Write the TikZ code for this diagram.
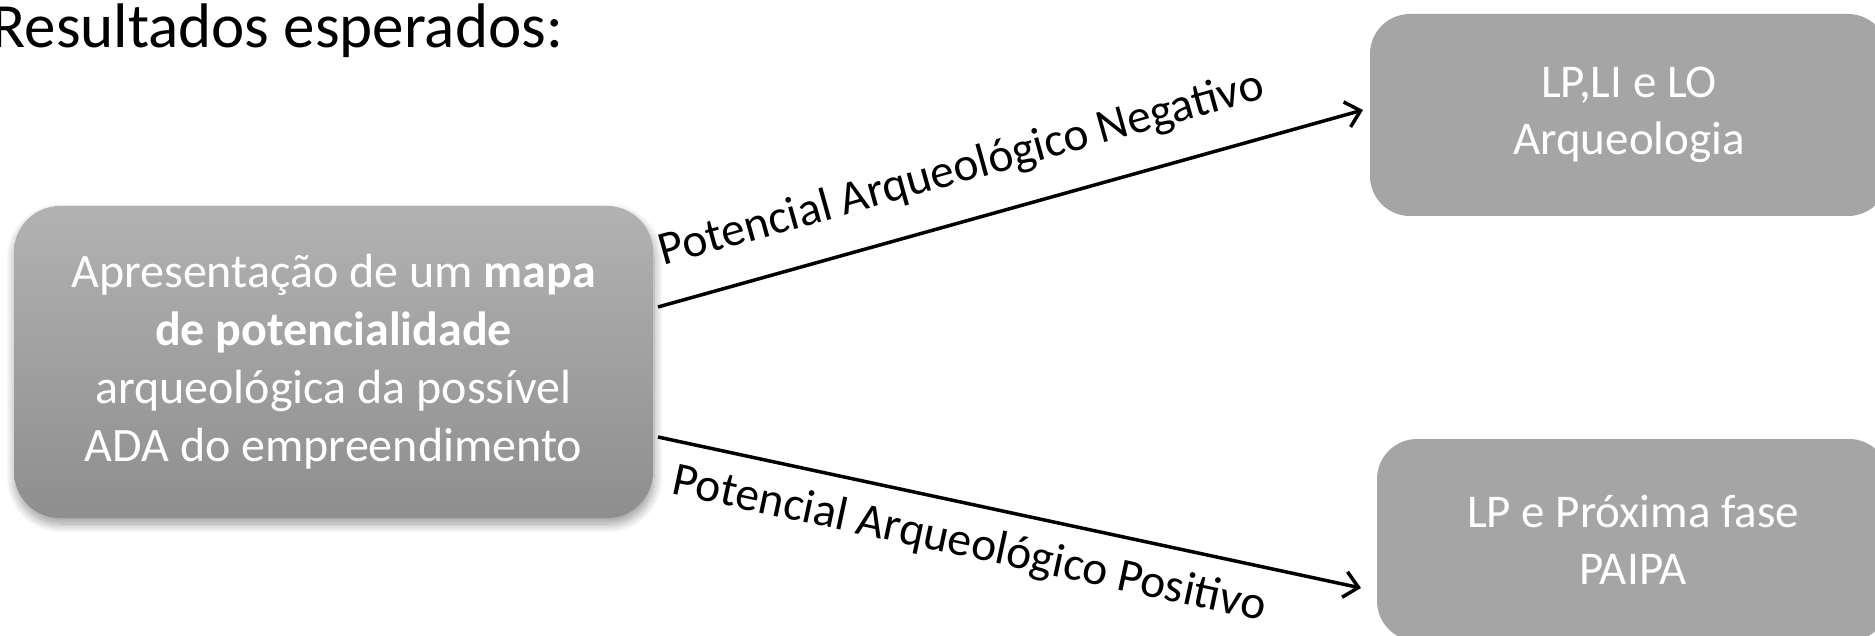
\documentclass[tikz,border=0pt]{standalone}
\usepackage{fontspec}
\setmainfont{Carlito}
\usetikzlibrary{shadows.blur,arrows.meta}
\definecolor{boxtop}{HTML}{B2B2B2}
\definecolor{boxbot}{HTML}{8E8E8E}
\definecolor{boxflat}{HTML}{A5A5A5}
\tikzset{
  mainbox/.style={rounded corners=46pt, top color=boxtop, bottom color=boxbot, draw=none,
    minimum width=639pt, minimum height=312pt, align=center, text=white,
    font=\fontsize{48}{58}\selectfont,
    blur shadow={shadow xshift=1pt, shadow yshift=-6pt, shadow blur radius=9pt, shadow blur steps=12}},
  resbox/.style={rounded corners=40pt, fill=boxflat, draw=none,
    minimum width=518pt, minimum height=202pt, align=center, text=white,
    font=\fontsize{47}{57}\selectfont},
  arr/.style={line width=3.5pt, -{Straight Barb[length=14pt,width=26pt,line width=3.5pt]}},
  lbl/.style={font=\fontsize{47.5}{55}\selectfont, sloped, inner sep=4pt}
}
\begin{document}
\begin{tikzpicture}[x=1pt,y=-1pt]
\useasboundingbox (0,0) rectangle (1875,636);
\node[anchor=base west, font=\fontsize{63}{70}\selectfont] (title) at (-12,48) {Resultados esperados:};
\node[mainbox] (L) at (333.5,362) {Apresentação de um \textbf{mapa}\\\textbf{de potencialidade}\\arqueológica da possível\\ADA do empreendimento};
\node[resbox] (R1) at (1629,115) {LP,LI e LO\\Arqueologia};
\node[resbox, minimum width=512pt] (R2) at (1633,540) {LP e Próxima fase\\PAIPA};
\coordinate (a1s) at (658,307);
\coordinate (a1e) at (1363,110);
\coordinate (a2s) at (658,437);
\coordinate (a2e) at (1361,588);
\draw[arr] (a1s) -- node[lbl, above=24pt, pos=0.45] (l1) {Potencial Arqueológico Negativo} (a1e);
\draw[arr] (a2s) -- node[lbl, below=14pt, pos=0.455] (l2) {Potencial Arqueológico Positivo} (a2e);
\end{tikzpicture}
\end{document}
